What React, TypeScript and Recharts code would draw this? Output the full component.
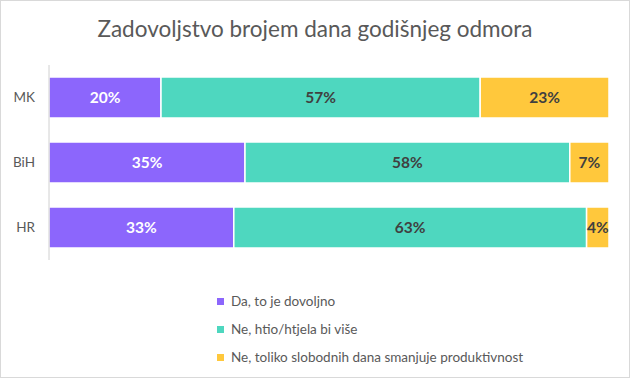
import { BarChart, Bar, XAxis, YAxis, LabelList } from 'recharts'

const countries = ['MK', 'BiH', 'HR']
const enough = [20, 35, 33]
const wantMore = [57, 58, 63]
const lessProductive = [23, 7, 4]
const seriesNames = [
  'Da, to je dovoljno',
  'Ne, htio/htjela bi više',
  'Ne, toliko slobodnih dana smanjuje produktivnost',
]
const colors = ['#8C66FC', '#4ED7BF', '#FFC83C']

const data = countries.map((c, i) => ({
  name: c,
  a: enough[i],
  b: wantMore[i],
  c: lessProductive[i],
}))

const font = 'Lato, "Noto Sans", sans-serif'
const pct = (v: any) => `${v}%`

export default function App() {
  return (
    <div
      style={{
        position: 'absolute', left: 0, top: 0, width: 630, height: 378,
        boxSizing: 'border-box', border: '1px solid #d9d9d9', background: '#fff',
        fontFamily: font,
      }}
    >
      <div
        style={{
          position: 'absolute', left: 0, right: 0, top: 14, textAlign: 'center',
          fontSize: 22.5, color: '#595959',
        }}
      >
        Zadovoljstvo brojem dana godišnjeg odmora
      </div>
      <BarChart
        width={628}
        height={376}
        data={data}
        layout="vertical"
        barCategoryGap={12}
        margin={{ top: 64, right: 20, bottom: 117, left: 8 }}
        style={{ position: 'absolute', left: 0, top: 0 }}
      >
        <XAxis type="number" domain={[0, 100]} hide />
        <YAxis
          type="category"
          dataKey="name"
          width={40}
          axisLine={{ stroke: '#d0d0d0' }}
          tickLine={false}
          tickMargin={8}
          tick={{ fill: '#595959', fontSize: 13.5, fontFamily: font }}
        />
        {(['a', 'b', 'c'] as const).map((k, i) => (
          <Bar
            key={k}
            dataKey={k}
            stackId="s"
            fill={colors[i]}
            stroke="#fff"
            strokeWidth={1.5}
            isAnimationActive={false}
          >
            <LabelList
              dataKey={k}
              position="center"
              formatter={pct}
              fill={i === 0 ? '#ffffff' : '#404040'}
              style={{ fontSize: 15.5, fontWeight: 700, fontFamily: font }}
            />
          </Bar>
        ))}
      </BarChart>
      <div style={{ position: 'absolute', left: 216, top: 286, fontSize: 13.5, color: '#595959' }}>
        {seriesNames.map((n, i) => (
          <div key={n} style={{ display: 'flex', alignItems: 'center', height: 28 }}>
            <span
              style={{
                display: 'inline-block', width: 7, height: 7, background: colors[i], marginRight: 7,
              }}
            />
            {n}
          </div>
        ))}
      </div>
    </div>
  )
}
